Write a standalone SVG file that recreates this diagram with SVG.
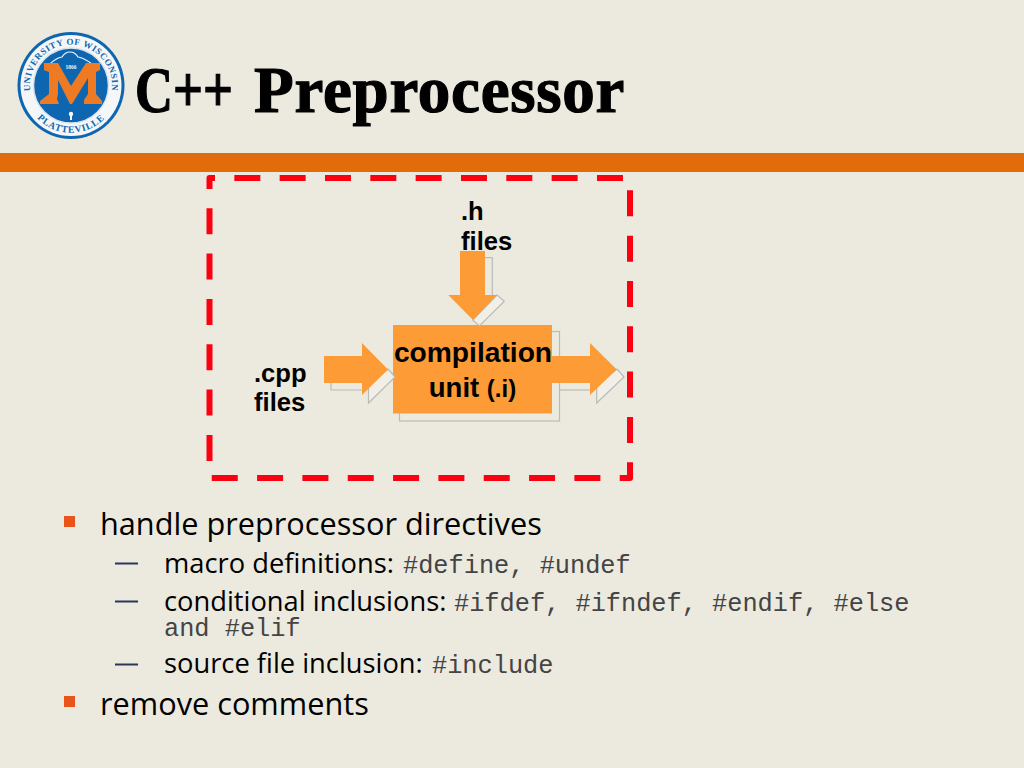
<svg xmlns="http://www.w3.org/2000/svg" xmlns:xlink="http://www.w3.org/1999/xlink" width="1024" height="768" viewBox="0 0 1024 768">
<style>
.lbl{font-family:"Liberation Sans",Arial,sans-serif;font-weight:bold;font-size:25.600px;fill:#000}
.body{font-family:"Open Sans","Noto Sans",sans-serif;fill:#000}
.l1{font-size:30.700px}
.l2{font-size:27.300px}
.mono{font-family:"Liberation Mono",monospace;font-size:25.300px;fill:#444}
.shadow{fill:#f1efe8;stroke:#b9bcb8;stroke-width:1.200}
.line{fill:none;stroke:#b9bcb8;stroke-width:1.200}
.fillo{fill:#fd9b37}
.bul{fill:#e9541a}
.dash{stroke:#28365a;stroke-width:2}
.seal{font-family:"Liberation Serif",serif;font-weight:bold;fill:#0e66b0}
.ttl{font-family:"Liberation Serif",serif;font-weight:bold;font-size:65px;fill:#000;stroke:#000;stroke-width:1.200}
</style>
<defs>
<path id="arcTop" d="M30.600 92.600 A41 41 0 1 1 111.400 92.600"/>
<path id="arcBot" d="M26.800 101.600 A47 47 0 0 0 115.200 101.600"/>
</defs>
<rect width="1024" height="768" fill="#ece9df"/>
<rect id="bar" x="0" y="153" width="1024" height="19" fill="#e36c0a"/>
<g id="logo">
<circle cx="71" cy="85.500" r="53.500" fill="#0e66b0"/>
<circle cx="71" cy="85.500" r="50.500" fill="#f4f6f8"/>
<circle cx="71" cy="85.500" r="37.500" fill="#0e66b0" stroke="#d8e3ec" stroke-width="1.500"/>
<path d="M50 64 Q56 58 62 57 Q65 52 70 52 Q75 52 78 57 Q84 58 92 64" fill="none" stroke="#f4f6f8" stroke-width="1.200"/>
<path d="M44 63 H58 L71 86 L86 63 H100 V70 L96 72 V94 L102 101 V104 H84 V100 L88 94 V78 L72 104 H70 L58 80 V94 L57 99 L59 104 H40 V101 L49 94 V72 L44 70Z" fill="#ee7b24"/>
<text x="71" y="69" text-anchor="middle" font-size="5.500" class="seal" style="fill:#f4f6f8">1866</text>
<circle cx="71" cy="114" r="2.200" fill="#f4f6f8"/>
<rect x="70" y="115" width="2" height="5" fill="#f4f6f8"/>
<text class="seal" font-size="9" letter-spacing=".6"><textPath xlink:href="#arcTop" href="#arcTop" startOffset="50%" text-anchor="middle">UNIVERSITY OF WISCONSIN</textPath></text>
<text class="seal" font-size="9.500" letter-spacing=".8"><textPath xlink:href="#arcBot" href="#arcBot" startOffset="50%" text-anchor="middle">PLATTEVILLE</textPath></text>
</g>
<g id="title">
<text class="ttl" x="135" y="112" textLength="98" lengthAdjust="spacingAndGlyphs">C++</text>
<text class="ttl" x="254" y="112" letter-spacing=".75">Preprocessor</text>
</g>
<g id="frame">
<rect x="209.500" y="178" width="420.500" height="300" fill="none" stroke="#fb0010" stroke-width="6" stroke-dasharray="26 19.330" stroke-dashoffset="20.500" stroke-linejoin="round"/>
</g>
<g id="unit">
<rect class="line" x="399.500" y="331.500" width="160" height="89.500"/>
<rect class="fillo" x="393" y="325" width="159" height="88.500"/>
</g>
<g id="connectors">
<g id="arrow-h">
<path class="line" d="M485 257.700H492.300V296"/>
<path class="shadow" d="M497 295L504.300 301.300L479.300 326L472.700 320Z"/>
<path class="fillo" d="M460 251H485V295H497L473 320L448.300 295H460Z"/>
</g>
<g id="arrow-cpp">
<path class="line" d="M331 383V390H362"/>
<path class="shadow" d="M388 369L395 377L368.500 403V385Z"/>
<path class="fillo" d="M324 356H362V343L388 369.500L362 395V383H324Z"/>
</g>
<g id="arrow-out">
<path class="line" d="M559.500 390H590"/>
<path class="shadow" d="M617 369L624 377L596.700 403V385Z"/>
<path class="fillo" d="M552 356H590V343L616.700 369.500L590 395V383H552Z"/>
</g>
</g>
<g id="unit-label">
<text class="lbl" x="473" y="362" text-anchor="middle" style="font-size:28.200px">compilation</text>
<text class="lbl" x="472.500" y="397" text-anchor="middle" style="font-size:27.500px">unit <tspan style="font-size:24px">(.i)</tspan></text>
</g>
<g id="h-files">
<text class="lbl" x="461" y="220">.h</text>
<text class="lbl" x="461" y="250">files</text>
</g>
<g id="cpp-files">
<text class="lbl" x="254" y="382">.cpp</text>
<text class="lbl" x="254" y="411">files</text>
</g>
<g id="bullets">
<rect class="bul" x="64" y="516" width="11" height="11"/>
<text class="body l1" x="100" y="535">handle preprocessor directives</text>
<line class="dash" x1="115" y1="563.500" x2="138" y2="563.500"/>
<text class="body l2" x="164" y="573">macro definitions: <tspan class="mono" x="403" y="573">#define, #undef</tspan></text>
<line class="dash" x1="115" y1="601.500" x2="138" y2="601.500"/>
<text class="body l2" x="164" y="611">conditional inclusions: <tspan class="mono" x="454" y="611">#ifdef, #ifndef, #endif, #else</tspan></text>
<text class="mono" x="164" y="636">and #elif</text>
<line class="dash" x1="115" y1="664.500" x2="138" y2="664.500"/>
<text class="body l2" x="164" y="673">source file inclusion: <tspan class="mono" x="432" y="673">#include</tspan></text>
<rect class="bul" x="64" y="696" width="11" height="11"/>
<text class="body l1" x="100" y="715">remove comments</text>
</g>
</svg>
